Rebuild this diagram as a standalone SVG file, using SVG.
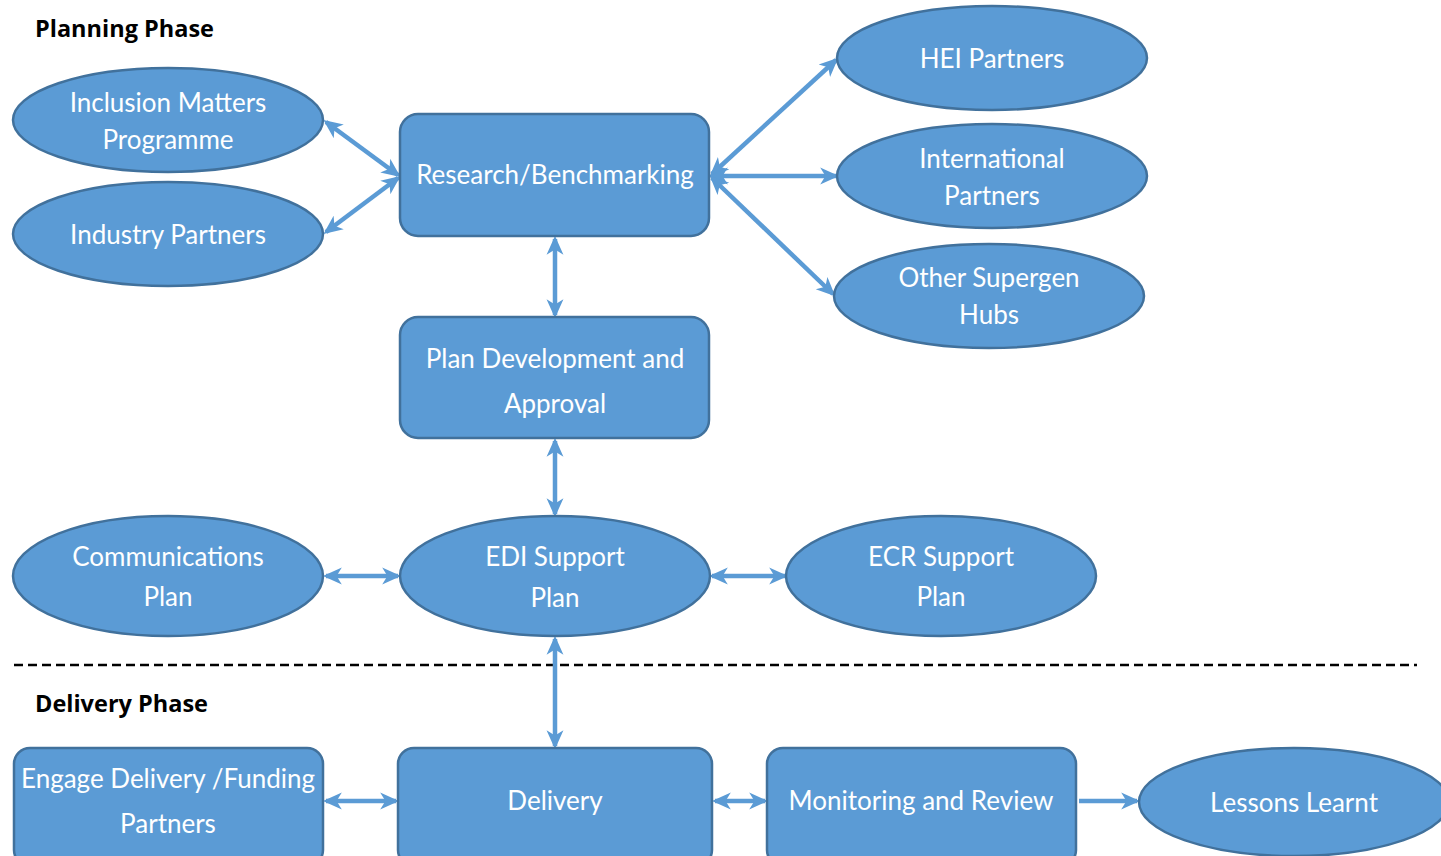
<svg xmlns="http://www.w3.org/2000/svg" width="1441" height="856" viewBox="0 0 1441 856">
<style>
.n{fill:#5B9BD5;stroke:#41719C;stroke-width:2.5}
.t{fill:#fff;font-family:Lato,"Open Sans","Liberation Sans",sans-serif;font-size:26px;text-anchor:middle}
.h{fill:#000;font-family:"Open Sans","Liberation Sans",sans-serif;font-weight:bold;font-size:23.5px}
.c{stroke:#5B9BD5;stroke-width:4.5;fill:none;marker-start:url(#a);marker-end:url(#a)}
</style>
<defs>
<marker id="a" viewBox="0 0 18 18" refX="15" refY="9" markerWidth="19" markerHeight="19" markerUnits="userSpaceOnUse" orient="auto-start-reverse">
<path d="M0,1 L18,9 L0,17 L5,9 z" fill="#5B9BD5"/>
</marker>
</defs>
<rect width="1441" height="856" fill="#fff"/>
<text class="h" x="35" y="37">Planning Phase</text>
<text class="h" x="35" y="712">Delivery Phase</text>
<line x1="14" y1="665" x2="1417" y2="665" stroke="#000" stroke-width="2.5" stroke-dasharray="9,5"/>
<g id="connectors">
<line class="c" x1="326" y1="122" x2="398" y2="175"/>
<line class="c" x1="326" y1="232" x2="398" y2="178"/>
<line class="c" x1="712" y1="174" x2="836" y2="60"/>
<line class="c" x1="712" y1="176" x2="836" y2="176"/>
<line class="c" x1="712" y1="178" x2="833" y2="294"/>
<line class="c" x1="555" y1="239" x2="555" y2="315"/>
<line class="c" x1="555" y1="441" x2="555" y2="514"/>
<line class="c" x1="326" y1="576" x2="398" y2="576"/>
<line class="c" x1="712" y1="576" x2="785" y2="576"/>
<line class="c" x1="555" y1="639" x2="555" y2="746"/>
<line class="c" x1="326" y1="801" x2="396" y2="801"/>
<line class="c" x1="715" y1="801" x2="765" y2="801"/>
<line class="c" x1="1079" y1="801" x2="1137" y2="801" style="marker-start:none"/>
</g>
<g id="inclusion"><ellipse class="n" cx="168" cy="120" rx="155" ry="52"/><text class="t" x="168" y="112">Inclusion Matters</text><text class="t" x="168" y="149">Programme</text></g>
<g id="industry"><ellipse class="n" cx="168" cy="234" rx="155" ry="52"/><text class="t" x="168" y="244">Industry Partners</text></g>
<g id="research"><rect class="n" x="400" y="114" width="309" height="122" rx="18"/><text class="t" x="555" y="184">Research/Benchmarking</text></g>
<g id="hei"><ellipse class="n" cx="992" cy="58" rx="155" ry="52"/><text class="t" x="992" y="68">HEI Partners</text></g>
<g id="international"><ellipse class="n" cx="992" cy="176" rx="155" ry="52"/><text class="t" x="992" y="168">International</text><text class="t" x="992" y="205">Partners</text></g>
<g id="supergen"><ellipse class="n" cx="989" cy="296" rx="155" ry="52"/><text class="t" x="989" y="287">Other Supergen</text><text class="t" x="989" y="324">Hubs</text></g>
<g id="plandev"><rect class="n" x="400" y="317" width="309" height="121" rx="18"/><text class="t" x="555" y="368">Plan Development and</text><text class="t" x="555" y="413">Approval</text></g>
<g id="comms"><ellipse class="n" cx="168" cy="576" rx="155" ry="60"/><text class="t" x="168" y="566">Communications</text><text class="t" x="168" y="606">Plan</text></g>
<g id="edi"><ellipse class="n" cx="555" cy="576" rx="155" ry="60"/><text class="t" x="555" y="566">EDI Support</text><text class="t" x="555" y="607">Plan</text></g>
<g id="ecr"><ellipse class="n" cx="941" cy="576" rx="155" ry="60"/><text class="t" x="941" y="566">ECR Support</text><text class="t" x="941" y="606">Plan</text></g>
<g id="engage"><rect class="n" x="14" y="748" width="309" height="118" rx="16"/><text class="t" x="168" y="788">Engage Delivery /Funding</text><text class="t" x="168" y="833">Partners</text></g>
<g id="delivery"><rect class="n" x="398" y="748" width="314" height="118" rx="16"/><text class="t" x="555" y="810">Delivery</text></g>
<g id="monitoring"><rect class="n" x="767" y="748" width="309" height="118" rx="16"/><text class="t" x="921" y="810">Monitoring and Review</text></g>
<g id="lessons"><ellipse class="n" cx="1294" cy="802" rx="155" ry="54"/><text class="t" x="1294" y="812">Lessons Learnt</text></g>
</svg>
